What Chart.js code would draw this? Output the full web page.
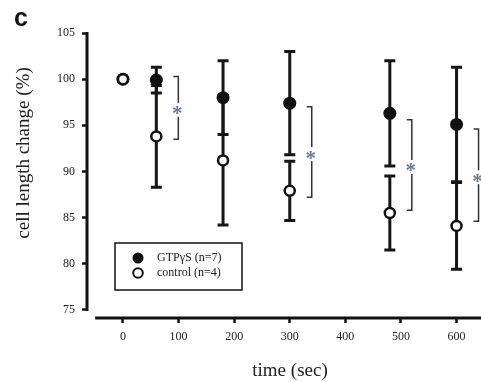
<!DOCTYPE html>
<html>
<head>
<meta charset="utf-8">
<script src="https://cdn.jsdelivr.net/npm/chart.js@4/dist/chart.umd.min.js"></script>
<style>
  body { margin: 0; background: #fff; }
  #wrap { width: 481px; height: 382px; }
</style>
</head>
<body>
<div id="wrap"><canvas id="chart" width="481" height="382"></canvas></div>
<script>
// data
const times = [0, 60, 180, 300, 480, 600];
const gtpMean = [100, 99.9, 98.0, 97.4, 96.3, 95.1];
const gtpErr = [0, 1.4, 4.0, 5.6, 5.7, 6.2];
const ctrlMean = [100, 93.8, 91.2, 87.9, 85.5, 84.1];
const ctrlErr = [0, 5.5, 7.0, 3.2, 4.0, 4.7];
const sigTimes = [60, 300, 480, 600];
const sigTop = [100.3, 97.0, 95.6, 94.6];
const sigBottom = [93.5, 87.2, 85.8, 84.6];
const xTicks = [0, 100, 200, 300, 400, 500, 600];
const yTicks = [75, 80, 85, 90, 95, 100, 105];
const legendLabels = ['GTP\u03B3S (n=7)', 'control (n=4)'];

const serif = '"Liberation Serif", "DejaVu Serif", serif';

// error bars, significance brackets, axis lines, legend and titles
const extras = {
    id: 'extras',
    beforeDatasetsDraw(chart) {
        const ctx = chart.ctx;
        const xs = chart.scales.x, ys = chart.scales.y;
        ctx.save();
        ctx.strokeStyle = '#161616';
        ctx.lineWidth = 3;
        [[gtpMean, gtpErr], [ctrlMean, ctrlErr]].forEach(([m, e]) => {
            times.forEach((t, i) => {
                if (!e[i]) return;
                const x = xs.getPixelForValue(t);
                const y1 = ys.getPixelForValue(m[i] + e[i]);
                const y2 = ys.getPixelForValue(m[i] - e[i]);
                ctx.beginPath();
                ctx.moveTo(x, y1); ctx.lineTo(x, y2);
                ctx.moveTo(x - 5.5, y1); ctx.lineTo(x + 5.5, y1);
                ctx.moveTo(x - 5.5, y2); ctx.lineTo(x + 5.5, y2);
                ctx.stroke();
            });
        });

        // significance brackets
        ctx.lineWidth = 1.5;
        ctx.strokeStyle = '#333';
        sigTimes.forEach((t, i) => {
            const x = xs.getPixelForValue(t) + 22;
            const yTop = ys.getPixelForValue(sigTop[i]);
            const yBot = ys.getPixelForValue(sigBottom[i]);
            ctx.beginPath();
            ctx.moveTo(x - 5, yTop); ctx.lineTo(x, yTop);
            ctx.lineTo(x, yBot); ctx.lineTo(x - 5, yBot);
            ctx.stroke();
            const yMid = (yTop + yBot) / 2 + 2;
            ctx.fillStyle = '#fff';
            ctx.fillRect(x - 6, yMid - 7, 12, 14);
            ctx.fillStyle = '#6b7a99';
            ctx.font = 'bold 21px ' + serif;
            ctx.textAlign = 'center';
            ctx.textBaseline = 'middle';
            ctx.fillText('*', x - 1, yMid + 5);
        });
        ctx.restore();
    },
    afterDraw(chart) {
        const ctx = chart.ctx;
        const xs = chart.scales.x, ys = chart.scales.y;
        const area = chart.chartArea;
        ctx.save();
        ctx.strokeStyle = '#111';
        ctx.lineWidth = 3;
        // y axis line
        ctx.beginPath();
        ctx.moveTo(area.left, ys.getPixelForValue(yTicks[yTicks.length - 1]) - 1);
        ctx.lineTo(area.left, ys.getPixelForValue(yTicks[0]) + 1);
        ctx.stroke();
        // x axis line
        ctx.beginPath();
        ctx.moveTo(xs.getPixelForValue(-50), area.bottom);
        ctx.lineTo(chart.width, area.bottom);
        ctx.stroke();

        // legend box
        ctx.lineWidth = 1.5;
        ctx.strokeRect(115, 243, 127, 47);
        ctx.fillStyle = '#111';
        ctx.beginPath();
        ctx.arc(138, 258, 5.5, 0, Math.PI * 2);
        ctx.fill();
        ctx.fillStyle = '#fff';
        ctx.lineWidth = 2;
        ctx.beginPath();
        ctx.arc(138, 273, 4.8, 0, Math.PI * 2);
        ctx.fill();
        ctx.stroke();
        ctx.fillStyle = '#222';
        ctx.font = '12px ' + serif;
        ctx.textAlign = 'left';
        ctx.textBaseline = 'middle';
        ctx.fillText(legendLabels[0], 157, 258);
        ctx.fillText(legendLabels[1], 157, 273);

        // axis titles
        ctx.font = '19px ' + serif;
        ctx.textAlign = 'center';
        ctx.fillText('time (sec)', 290, 371);
        ctx.save();
        ctx.translate(24, 153);
        ctx.rotate(-Math.PI / 2);
        ctx.fillText('cell length change (%)', 0, 0);
        ctx.restore();

        // panel letter
        ctx.font = 'bold 25px "Liberation Sans", Arial, sans-serif';
        ctx.textAlign = 'left';
        ctx.textBaseline = 'alphabetic';
        ctx.fillStyle = '#111';
        ctx.fillText('c', 14, 26);
        ctx.restore();
    }
};

const toPoints = (m) => times.map((t, i) => ({ x: t, y: m[i] }));

new Chart(document.getElementById('chart'), {
    type: 'scatter',
    data: {
        datasets: [
            {
                label: legendLabels[1],
                data: toPoints(ctrlMean),
                order: 0,
                pointRadius: 5,
                pointBorderWidth: 2.5,
                pointBackgroundColor: '#fff',
                pointBorderColor: '#111'
            },
            {
                label: legendLabels[0],
                data: toPoints(gtpMean),
                order: 1,
                pointRadius: 6.5,
                pointBorderWidth: 0,
                pointBackgroundColor: '#111',
                pointBorderColor: '#111'
            }
        ]
    },
    options: {
        responsive: false,
        animation: false,
        layout: { padding: { top: 33, left: 0, right: 0, bottom: 0 } },
        plugins: { legend: { display: false }, tooltip: { enabled: false } },
        scales: {
            x: {
                type: 'linear',
                min: -64.7,
                max: 630.5,
                afterBuildTicks: s => { s.ticks = xTicks.map(v => ({ value: v })); },
                afterFit: s => { s.height = 64; },
                border: { display: false },
                grid: { drawOnChartArea: false, drawTicks: true, tickLength: 5, tickWidth: 2.5, tickColor: '#111' },
                ticks: { padding: 7, color: '#222', font: { family: serif, size: 12 } }
            },
            y: {
                min: 74.13,
                max: 105,
                afterBuildTicks: s => { s.ticks = yTicks.map(v => ({ value: v })); },
                afterFit: s => { s.width = 87; },
                border: { display: false },
                grid: { drawOnChartArea: false, drawTicks: true, tickLength: 5, tickWidth: 2.5, tickColor: '#111' },
                ticks: { padding: 7, color: '#222', font: { family: serif, size: 12 } }
            }
        }
    },
    plugins: [extras]
});
</script>
</body>
</html>
